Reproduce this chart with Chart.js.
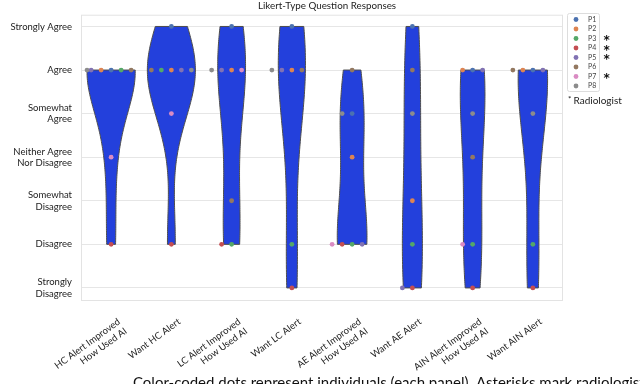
<!DOCTYPE html>
<html>
<head>
<meta charset="utf-8">
<title>Likert-Type Question Responses</title>
<script src="https://cdn.jsdelivr.net/npm/chart.js@4.4.1/dist/chart.umd.min.js"></script>
<style>
  html, body { margin: 0; padding: 0; background: #fff; }
  #wrap { width: 640px; height: 384px; }
</style>
</head>
<body>
<div id="wrap"><canvas id="likertChart" width="640" height="384"></canvas></div>
<script>
// Questions along the x axis
const questions = [
    ['HC Alert Improved', 'How Used AI'],
    'Want HC Alert',
    ['LC Alert Improved', 'How Used AI'],
    'Want LC Alert',
    ['AE Alert Improved', 'How Used AI'],
    'Want AE Alert',
    ['AIN Alert Improved', 'How Used AI'],
    'Want AIN Alert'
];

// Likert levels, 1 = Strongly Disagree ... 7 = Strongly Agree
const likertLabels = [
    ['Strongly', 'Disagree'],
    'Disagree',
    ['Somewhat', 'Disagree'],
    ['Neither Agree', 'Nor Disagree'],
    ['Somewhat', 'Agree'],
    'Agree',
    'Strongly Agree'
];

const participants = ['P1', 'P2', 'P3', 'P4', 'P5', 'P6', 'P7', 'P8'];
const radiologist = [false, false, true, true, true, false, true, false];
const participantColors = ['#4c72b0', '#dd8452', '#55a868', '#c44e52', '#8172b3', '#937860', '#da8bc3', '#8c8c8c'];

// answers per participant, one per question (null = no answer)
const p1 = [6, 7, 7, 7, 5, 7, 6, 6];
const p2 = [6, 6, 6, 6, 4, 3, 6, 6];
const p3 = [6, 6, 2, 2, 2, 2, 2, 2];
const p4 = [2, 2, 2, 1, 2, 1, 1, 1];
const p5 = [6, 6, 6, 6, 2, 1, 6, 6];
const p6 = [6, 6, 3, 6, 6, 6, 4, 6];
const p7 = [4, 5, 6, null, 2, null, 2, null];
const p8 = [6, 6, 6, 6, 5, 5, 5, 5];
const answers = [p1, p2, p3, p4, p5, p6, p7, p8];

const chartTitle = 'Likert-Type Question Responses';
const caption = 'Color-coded dots represent individuals (each panel). Asterisks mark radiologists.';

const violinColor = '#2340dc';
const violinEdge = '#4d4d4d';
const swarmStep = 0.166;   // one dot width, in category units
const halfWidth = 0.4;     // violins use 80% of each slot

// Gaussian KDE (Scott's rule), cut at the data range like seaborn cut=0
function kde(values) {
    const n = values.length;
    const mean = values.reduce((a, b) => a + b, 0) / n;
    const sd = Math.sqrt(values.reduce((a, b) => a + (b - mean) * (b - mean), 0) / (n - 1));
    const bw = sd * Math.pow(n, -0.2);
    const lo = Math.min(...values), hi = Math.max(...values);
    const grid = [], dens = [];
    for (let k = 0; k <= 100; k++) {
        const y = lo + (hi - lo) * k / 100;
        let s = 0;
        values.forEach(v => { const z = (y - v) / bw; s += Math.exp(-0.5 * z * z); });
        grid.push(y);
        dens.push(s / (n * bw * Math.sqrt(2 * Math.PI)));
    }
    return { grid, dens };
}

const violins = questions.map((_, q) => kde(answers.map(a => a[q]).filter(v => v !== null)));
const maxDensity = Math.max(...violins.map(v => Math.max(...v.dens)));

// swarm offsets: same answers spread 0, -1, +1, -2, +2 ... (clipped to violin width)
function swarmData(pIndex) {
    const pts = [];
    questions.forEach((_, q) => {
        const val = answers[pIndex][q];
        if (val === null) return;
        let rank = 0;
        for (let j = 0; j < pIndex; j++) if (answers[j][q] === val) rank++;
        const slot = rank === 0 ? 0 : (rank % 2 === 1 ? -(rank + 1) / 2 : rank / 2);
        const off = Math.max(-halfWidth, Math.min(halfWidth, slot * swarmStep));
        pts.push({ x: q + off, y: val });
    });
    return pts;
}

const violinPlugin = {
    id: 'violins',
    beforeDatasetsDraw(chart) {
        const { ctx, chartArea, scales: { x, y } } = chart;
        ctx.save();
        ctx.strokeStyle = '#e3e3e3';
        ctx.lineWidth = 1;
        ctx.strokeRect(chartArea.left + 0.5, chartArea.top + 0.5, chartArea.width - 1, chartArea.height - 1);

        violins.forEach((v, q) => {
            const w = v.dens.map(d => halfWidth * d / maxDensity);
            ctx.beginPath();
            v.grid.forEach((g, k) => {
                const px = x.getPixelForValue(q - w[k]), py = y.getPixelForValue(g);
                if (k === 0) ctx.moveTo(px, py); else ctx.lineTo(px, py);
            });
            for (let k = v.grid.length - 1; k >= 0; k--) {
                ctx.lineTo(x.getPixelForValue(q + w[k]), y.getPixelForValue(v.grid[k]));
            }
            ctx.closePath();
            ctx.fillStyle = violinColor;
            ctx.fill();
            ctx.strokeStyle = violinEdge;
            ctx.lineWidth = 1;
            ctx.stroke();
        });
        ctx.restore();
    }
};

const legendPlugin = {
    id: 'sideLegend',
    afterDraw(chart) {
        const { ctx, chartArea } = chart;
        const left = chartArea.right + 4.5, top = 13.5;
        ctx.save();

        // title centred over the plot
        ctx.fillStyle = '#222';
        ctx.font = '9.8px Lato';
        ctx.textAlign = 'center';
        ctx.textBaseline = 'middle';
        ctx.fillText(chartTitle, (chartArea.left + chartArea.right) / 2 + 5, 5.5);
        ctx.textAlign = 'left';

        ctx.strokeStyle = '#dddddd';
        ctx.lineWidth = 1;
        ctx.beginPath();
        ctx.roundRect(left, top, 32, 78, 2);
        ctx.stroke();

        participants.forEach((name, i) => {
            const cy = top + 6 + i * 9.5;
            ctx.fillStyle = participantColors[i];
            ctx.beginPath();
            ctx.arc(left + 8.5, cy, 2.4, 0, Math.PI * 2);
            ctx.fill();
            ctx.fillStyle = '#444';
            ctx.font = '7px Lato';
            ctx.fillText(name, left + 20.5, cy);
            if (radiologist[i]) {
                ctx.fillStyle = '#111';
                ctx.font = 'bold 12px "DejaVu Sans"';
                ctx.fillText('*', left + 36, cy + 2.5);
            }
        });
        ctx.fillStyle = '#222';
        ctx.font = '8px Lato';
        ctx.fillText('*', left + 0.5, top + 86);
        ctx.font = '10px Lato';
        ctx.fillText('Radiologist', left + 6, top + 87);

        // caption line cut off at the bottom of the picture
        ctx.textBaseline = 'alphabetic';
        ctx.font = '15px Lato';
        ctx.fillStyle = '#111';
        ctx.fillText(caption, 133, 388);
        ctx.restore();
    }
};

const labelFont = { family: 'Lato', size: 9.5 };

new Chart(document.getElementById('likertChart'), {
    type: 'scatter',
    data: {
        datasets: participants.map((name, i) => ({
            label: name,
            data: swarmData(i),
            backgroundColor: participantColors[i],
            borderWidth: 0,
            pointRadius: 2.4,
            pointHoverRadius: 2.4
        }))
    },
    options: {
        responsive: false,
        animation: false,
        layout: { padding: { top: 14, right: 77, bottom: 0, left: 0 } },
        plugins: {
            legend: { display: false },
            tooltip: { enabled: false },
            title: { display: false }
        },
        scales: {
            x: {
                type: 'linear',
                min: -0.5,
                max: 7.5,
                afterBuildTicks: s => { s.ticks = questions.map((_, i) => ({ value: i })); },
                afterFit: s => { s.height = 83; },
                grid: { display: false },
                border: { display: false },
                ticks: {
                    callback: v => questions[v],
                    autoSkip: false,
                    minRotation: 36,
                    maxRotation: 36,
                    labelOffset: 8,
                    padding: 7,
                    color: '#222',
                    font: labelFont
                }
            },
            y: {
                type: 'linear',
                min: 0.7,
                max: 7.27,
                afterBuildTicks: s => { s.ticks = likertLabels.map((_, i) => ({ value: i + 1 })); },
                afterFit: s => { s.width = 81; },
                grid: { color: '#e6e6e6', drawTicks: false },
                border: { display: false },
                ticks: {
                    callback: v => likertLabels[v - 1],
                    padding: 9,
                    color: '#222',
                    font: labelFont
                }
            }
        }
    },
    plugins: [violinPlugin, legendPlugin]
});
</script>
</body>
</html>
